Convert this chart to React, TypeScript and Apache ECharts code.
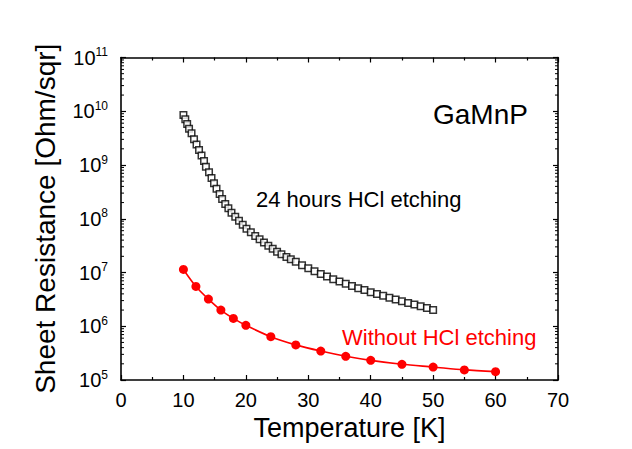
import React, { useEffect, useRef } from "react";
import * as echarts from "echarts";

// ---- data ----
const temps24h = [
  10.0, 10.3, 10.6, 10.9, 11.3, 11.7, 12.1, 12.5, 12.9, 13.3, 13.6, 14.1, 14.5, 14.9, 15.3,
  15.8, 16.2, 16.7, 17.2, 17.7, 18.3, 18.9, 19.5, 20.1, 20.8, 21.5, 22.2, 22.9, 23.6, 24.3,
  25.0, 25.7, 26.5, 27.2, 28.0, 29, 30, 31, 32, 33, 34, 35, 36, 37, 38, 39, 40, 41, 42, 43,
  44, 45, 46, 47, 48, 49, 50,
];
const res24h = [
  8.5e9, 7.1e9, 5.8e9, 4.7e9, 3.9e9, 3.0e9, 2.4e9, 1.9e9, 1.5e9, 1.19e9, 9.3e8, 7.3e8, 5.7e8,
  4.6e8, 3.6e8, 2.9e8, 2.33e8, 1.88e8, 1.56e8, 1.3e8, 1.09e8, 9.2e7, 7.7e7, 6.5e7, 5.6e7, 4.8e7,
  4.15e7, 3.6e7, 3.15e7, 2.77e7, 2.44e7, 2.18e7, 1.94e7, 1.76e7, 1.59e7, 1.36e7, 1.2e7, 1.06e7,
  9.4e6, 8.4e6, 7.5e6, 6.8e6, 6.2e6, 5.6e6, 5.1e6, 4.7e6, 4.3e6, 4.0e6, 3.7e6, 3.4e6, 3.15e6,
  2.93e6, 2.72e6, 2.53e6, 2.36e6, 2.19e6, 2.0e6,
];
const tempsNoEtch = [10, 12, 14, 16, 18, 20, 24, 28, 32, 36, 40, 45, 50, 55, 60];
const resNoEtch = [
  1.14e7, 5.5e6, 3.2e6, 2.0e6, 1.4e6, 1.04e6, 6.4e5, 4.5e5, 3.45e5, 2.76e5, 2.32e5, 1.96e5,
  1.74e5, 1.54e5, 1.43e5,
];
const xTicks = { min: 0, max: 70, interval: 10 };
const yDecades = [5, 6, 7, 8, 9, 10, 11];
const minorMultipliers = [2, 3, 4, 5, 6, 7, 8, 9];

const FONT = "Arial, 'Liberation Sans', sans-serif";

export default function App() {
  const ref = useRef<HTMLDivElement>(null);
  useEffect(() => {
    if (!ref.current) return;
    const chart = echarts.init(ref.current, null, { renderer: "svg" });
    const yMin = Math.pow(10, yDecades[0]);
    const yMax = Math.pow(10, yDecades[yDecades.length - 1]);
    const minorVals: number[][] = [];
    yDecades.slice(0, -1).forEach((d) => {
      minorMultipliers.forEach((m) => minorVals.push([0, m * Math.pow(10, d)]));
    });
    const axisLine = { show: true, onZero: false, lineStyle: { color: "#000", width: 1.6 } };
    const grid = { left: 121, right: 74, top: 57.5, bottom: 69 };
    const option: any = {
      animation: false,
      backgroundColor: "#fff",
      grid,
      xAxis: [
        {
          type: "value",
          min: xTicks.min,
          max: xTicks.max,
          interval: xTicks.interval,
          position: "bottom",
          axisLine,
          axisTick: { show: true, inside: true, length: 5, lineStyle: { color: "#000", width: 1.2 } },
          minorTick: { show: true, splitNumber: 2, length: 3, lineStyle: { color: "#000", width: 1.2 } },
          splitLine: { show: false },
          axisLabel: { color: "#000", fontSize: 20, fontFamily: FONT, margin: 10 },
          name: "Temperature [K]",
          nameLocation: "middle",
          nameGap: 34,
          nameTextStyle: { color: "#000", fontSize: 27, fontFamily: FONT, padding: [0, 0, 0, 20] },
        },
        {
          type: "value",
          min: xTicks.min,
          max: xTicks.max,
          interval: xTicks.interval,
          position: "top",
          axisLine,
          axisTick: { show: true, inside: true, length: 5, lineStyle: { color: "#000", width: 1.2 } },
          minorTick: { show: true, splitNumber: 2, length: 3, lineStyle: { color: "#000", width: 1.2 } },
          splitLine: { show: false },
          axisLabel: { show: false },
        },
      ],
      yAxis: [
        {
          type: "log",
          logBase: 10,
          min: yMin,
          max: yMax,
          position: "left",
          axisLine,
          axisTick: { show: true, inside: true, length: 5, lineStyle: { color: "#000", width: 1.2 } },
          minorTick: { show: false },
          splitLine: { show: false },
          axisLabel: {
            margin: 13,
            formatter: (v: number) => `{b|10}{s|${Math.round(Math.log10(v))}}`,
            rich: {
              b: { fontSize: 20, fontFamily: FONT, color: "#000", lineHeight: 23 },
              s: { fontSize: 12, fontFamily: FONT, color: "#000", lineHeight: 12, verticalAlign: "top" },
            },
          },
          name: "Sheet Resistance [Ohm/sqr]",
          nameLocation: "middle",
          nameGap: 62,
          nameTextStyle: { color: "#000", fontSize: 28, fontFamily: FONT },
        },
        {
          type: "log",
          logBase: 10,
          min: yMin,
          max: yMax,
          position: "right",
          axisLine,
          axisTick: { show: true, inside: true, length: 5, lineStyle: { color: "#000", width: 1.2 } },
          minorTick: { show: false },
          splitLine: { show: false },
          axisLabel: { show: false },
        },
      ],
      series: [
        {
          type: "custom",
          silent: true,
          xAxisIndex: 0,
          yAxisIndex: 0,
          data: minorVals,
          encode: { x: 0, y: 1 },
          renderItem: (params: any, api: any) => {
            const v = api.value(1);
            const pL = api.coord([xTicks.min, v]);
            const pR = api.coord([xTicks.max, v]);
            const st = { stroke: "#000", lineWidth: 1 };
            return {
              type: "group",
              children: [
                { type: "line", shape: { x1: pL[0], y1: pL[1], x2: pL[0] + 3, y2: pL[1] }, style: st },
                { type: "line", shape: { x1: pR[0], y1: pR[1], x2: pR[0] - 3, y2: pR[1] }, style: st },
              ],
            };
          },
          z: 1,
        },
        {
          name: "Without HCl etching",
          type: "line",
          data: tempsNoEtch.map((t, i) => [t, resNoEtch[i]]),
          smooth: 0.3,
          symbol: "circle",
          symbolSize: 9,
          itemStyle: { color: "#ff0000" },
          lineStyle: { color: "#ff0000", width: 1.6 },
          z: 3,
        },
        {
          name: "24 hours HCl etching",
          type: "scatter",
          data: temps24h.map((t, i) => [t, res24h[i]]),
          symbol: "rect",
          symbolSize: 6.5,
          itemStyle: { color: "#fff", borderColor: "#000", borderWidth: 1.5 },
          z: 4,
        },
      ],
      graphic: [
        {
          type: "text",
          x: 433,
          y: 114,
          style: { text: "GaMnP", font: `28px ${FONT}`, fill: "#000", textVerticalAlign: "middle" },
        },
        {
          type: "text",
          x: 256,
          y: 199,
          style: { text: "24 hours HCl etching", font: `22px ${FONT}`, fill: "#000", textVerticalAlign: "middle" },
        },
        {
          type: "text",
          x: 342,
          y: 337.5,
          style: { text: "Without HCl etching", font: `22px ${FONT}`, fill: "#ff0000", textVerticalAlign: "middle" },
        },
      ],
    };
    chart.setOption(option);
    return () => chart.dispose();
  }, []);
  return (
    <div
      ref={ref}
      style={{ position: "fixed", left: 0, top: 0, width: 632, height: 449, background: "#fff" }}
    />
  );
}
